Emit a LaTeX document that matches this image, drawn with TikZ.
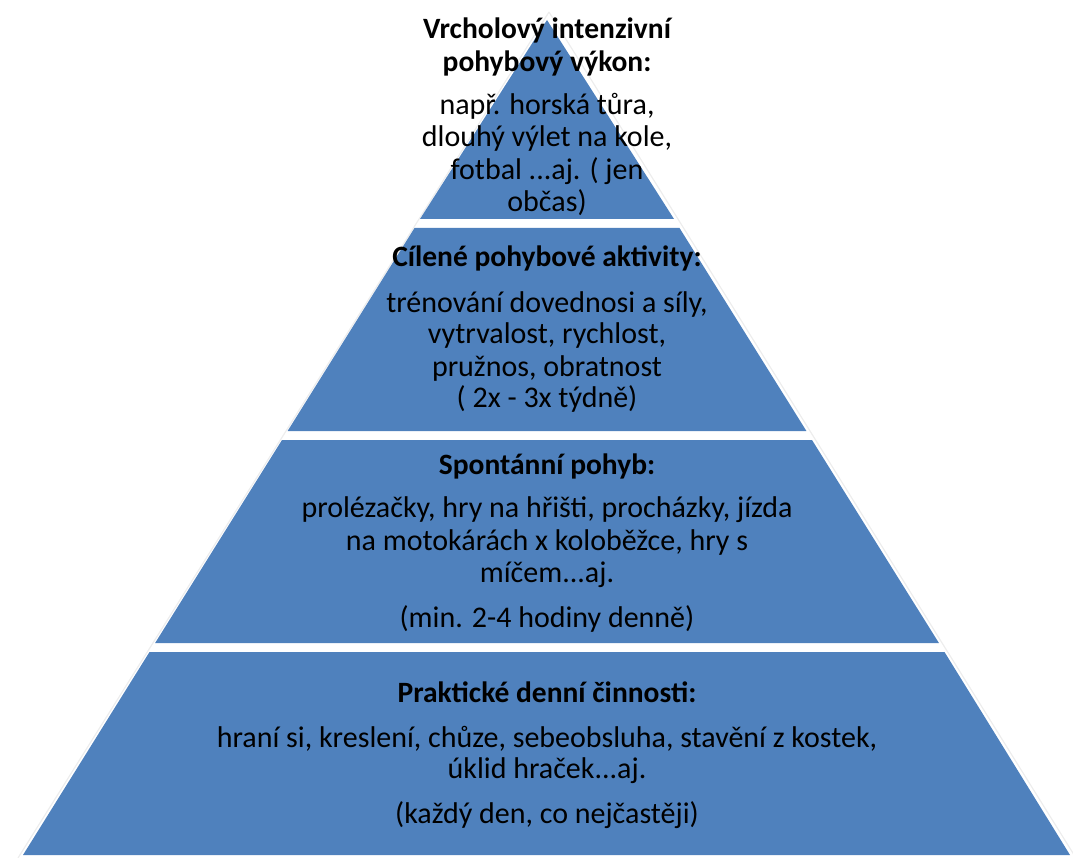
\documentclass[tikz,border=0pt]{standalone}
\usepackage{fontspec}
\setmainfont{Carlito}
\definecolor{pyrblue}{HTML}{4F81BD}
\definecolor{pyrshadow}{HTML}{EDEDED}
\tikzset{
  layer/.style={fill=pyrblue, draw=none},
  edgeshadow/.style={draw=pyrshadow, line width=1.2pt},
  ln/.style={anchor=base, inner sep=0pt, text=black, font=\fontsize{30}{36}\selectfont},
  hd/.style={ln, font=\fontsize{29.5}{36}\selectfont\bfseries},
}
\begin{document}
\begin{tikzpicture}[x=1pt,y=-1pt]
\useasboundingbox (0,0) rectangle (1073,858);
% faint outer shadow along the pyramid sides
\draw[edgeshadow] (549,12) -- (18,858);
\draw[edgeshadow] (549,12) -- (1076,858);
% layers
\fill[layer] (547,20) -- (674,219) -- (420,219) -- cycle;
\fill[layer] (414.5,228) -- (679.5,228) -- (806.4,431) -- (287.6,431) -- cycle;
\fill[layer] (282,440) -- (812,440) -- (938.9,643) -- (155.1,643) -- cycle;
\fill[layer] (149.5,652) -- (944.5,652) -- (1070,855) -- (23,855) -- cycle;
% layer 1 text
\node[hd] (t1a) at (547,39) {Vrcholový intenzivní};
\node[hd] (t1b) at (547,72) {pohybový výkon:};
\node[ln] (b1a) at (547,115) {např. horská tůra,};
\node[ln] (b1b) at (547,147) {dlouhý výlet na kole,};
\node[ln] (b1c) at (547,180) {fotbal ...aj. ( jen};
\node[ln] (b1d) at (547,212) {občas)};
% layer 2 text
\node[hd] (t2a) at (547,267) {Cílené pohybové aktivity:};
\node[ln] (b2a) at (547,313) {trénování dovednosi a síly,};
\node[ln] (b2b) at (547,344) {vytrvalost, rychlost,};
\node[ln] (b2c) at (547,377) {pružnos, obratnost};
\node[ln] (b2d) at (547,407) {( 2x - 3x týdně)};
% layer 3 text
\node[hd] (t3a) at (547,474) {Spontánní pohyb:};
\node[ln] (b3a) at (547,517) {prolézačky, hry na hřišti, procházky, jízda};
\node[ln] (b3b) at (547,550) {na motokárách x koloběžce, hry s};
\node[ln] (b3c) at (547,582) {míčem...aj.};
\node[ln] (b3d) at (547,627) {(min. 2-4 hodiny denně)};
% layer 4 text
\node[hd] (t4a) at (547,702) {Praktické denní činnosti:};
\node[ln] (b4a) at (547,747) {hraní si, kreslení, chůze, sebeobsluha, stavění z kostek,};
\node[ln] (b4b) at (547,778) {úklid hraček...aj.};
\node[ln] (b4c) at (547,823) {(každý den, co nejčastěji)};
\end{tikzpicture}
\end{document}
